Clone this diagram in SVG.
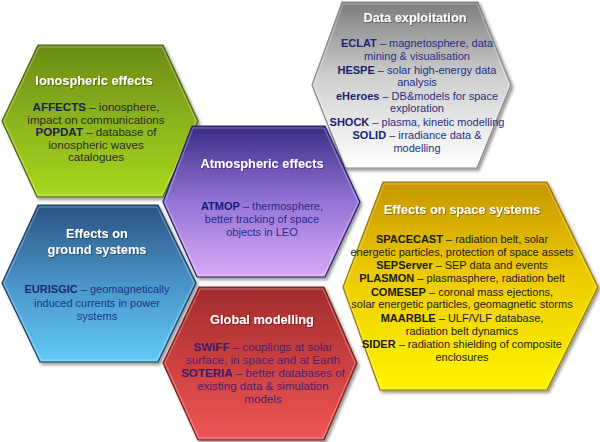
<svg xmlns="http://www.w3.org/2000/svg" width="600" height="442" viewBox="0 0 600 442">
<defs>
<linearGradient id="gGreen" x1="0" y1="0" x2="0" y2="1"><stop offset="0" stop-color="#6c8a16"/><stop offset="0.5" stop-color="#8cb41c"/><stop offset="1" stop-color="#a8d620"/></linearGradient>
<linearGradient id="gGray" x1="0" y1="0" x2="0" y2="1"><stop offset="0" stop-color="#7c7c7c"/><stop offset="0.45" stop-color="#cfcfcf"/><stop offset="1" stop-color="#ffffff"/></linearGradient>
<linearGradient id="gPurple" x1="0" y1="0" x2="0" y2="1"><stop offset="0" stop-color="#3a2c84"/><stop offset="0.5" stop-color="#9274d6"/><stop offset="1" stop-color="#daaaf6"/></linearGradient>
<linearGradient id="gBlue" x1="0" y1="0" x2="0" y2="1"><stop offset="0" stop-color="#2a5282"/><stop offset="0.5" stop-color="#4a94c8"/><stop offset="1" stop-color="#62caf6"/></linearGradient>
<linearGradient id="gRed" x1="0" y1="0" x2="0" y2="1"><stop offset="0" stop-color="#a02c2c"/><stop offset="0.5" stop-color="#cc4040"/><stop offset="1" stop-color="#ee5656"/></linearGradient>
<linearGradient id="gYellow" x1="0" y1="0" x2="0" y2="1"><stop offset="0" stop-color="#c89600"/><stop offset="0.45" stop-color="#eccc00"/><stop offset="1" stop-color="#fff400"/></linearGradient>
<filter id="sh" x="-10%" y="-10%" width="125%" height="125%"><feDropShadow dx="2" dy="2.5" stdDeviation="1.8" flood-color="#000" flood-opacity="0.4"/></filter>
<filter id="tsh" x="-5%" y="-20%" width="110%" height="150%"><feDropShadow dx="0.8" dy="0.8" stdDeviation="0.6" flood-color="#000" flood-opacity="0.45"/></filter>
</defs>
<style>
.hex{stroke-width:1.2;filter:url(#sh)}
.bev{fill:none;stroke:#ffffff;stroke-opacity:0.35;stroke-width:1}
text{font-family:"Liberation Sans",Arial,sans-serif;text-anchor:middle}
.t{font-size:12.8px;font-weight:bold;fill:#ffffff;filter:url(#tsh)}
.b{font-size:11px}
.bl{font-size:11.6px}
.k{font-weight:bold}
</style>
<rect width="600" height="442" fill="#ffffff"/>
<g id="connectors"></g>
<g id="ionospheric">
<polygon class="hex" points="38,45 163,45 198,121 163,197 37,197 2,121" fill="url(#gGreen)" stroke="#4e6410"/>
<polygon class="bev" points="39,47 162,47 196,121 162,195 38,195 4,121"/>
<text class="t" x="94" y="85">Ionospheric effects</text>
<g class="bl" fill="#2a2a2a">
<text x="96" y="111"><tspan class="k" fill="#1c2248">AFFECTS</tspan> – ionosphere,</text>
<text x="96" y="123.5">impact on communications</text>
<text x="96" y="136"><tspan class="k" fill="#1c2248">POPDAT</tspan> – database of</text>
<text x="96" y="148.5">ionospheric waves</text>
<text x="96" y="161">catalogues</text>
</g>
</g>
<g id="data-exploitation">
<polygon class="hex" points="342,2 478,2 511,85 477,168 345,168 312,85" fill="url(#gGray)" stroke="#8a8a8a"/>
<polygon class="bev" points="343,4 477,4 509,85 476,166 346,166 314,85"/>
<text class="t" x="415" y="22">Data exploitation</text>
<g class="b" fill="#252f86">
<text x="417" y="47"><tspan class="k" fill="#1a2370">ECLAT</tspan> – magnetosphere, data</text>
<text x="417" y="60">mining &amp; visualisation</text>
<text x="417" y="73.5"><tspan class="k" fill="#1a2370">HESPE</tspan> – solar high-energy data</text>
<text x="417" y="86">analysis</text>
<text x="417" y="99.5"><tspan class="k" fill="#1a2370">eHeroes</tspan> – DB&amp;models for space</text>
<text x="417" y="112">exploration</text>
<text x="417" y="125.5"><tspan class="k" fill="#1a2370">SHOCK</tspan> – plasma, kinetic modelling</text>
<text x="417" y="138.5"><tspan class="k" fill="#1a2370">SOLID</tspan> – irradiance data &amp;</text>
<text x="417" y="151.5">modelling</text>
</g>
</g>
<g id="atmospheric">
<polygon class="hex" points="192,126 325,126 360,202 325,277 197,277 163,202" fill="url(#gPurple)" stroke="#2c2068"/>
<polygon class="bev" points="193,128 324,128 358,202 324,275 198,275 165,202"/>
<text class="t" x="262" y="168">Atmospheric effects</text>
<g class="b" fill="#2a2a8a">
<text x="262" y="210"><tspan class="k" fill="#1a1a70">ATMOP</tspan> – thermosphere,</text>
<text x="262" y="223">better tracking of space</text>
<text x="262" y="235.5">objects in LEO</text>
</g>
</g>
<g id="ground-systems">
<polygon class="hex" points="38,205 158,205 196,283 158,362 40,362 2,283" fill="url(#gBlue)" stroke="#1e3e66"/>
<polygon class="bev" points="39,207 157,207 194,283 157,360 41,360 4,283"/>
<text class="t" x="97" y="237.5">Effects on</text>
<text class="t" x="97" y="253.5">ground systems</text>
<g class="b" fill="#1e3488">
<text x="97" y="293"><tspan class="k" fill="#1a2a70">EURISGIC</tspan> – geomagnetically</text>
<text x="97" y="306.5">induced currents in power</text>
<text x="97" y="320">systems</text>
</g>
</g>
<g id="global-modelling">
<polygon class="hex" points="199,287 324,287 357,363 324,440 198,440 163,363" fill="url(#gRed)" stroke="#7a2020"/>
<polygon class="bev" points="200,289 323,289 355,363 323,438 199,438 165,363"/>
<text class="t" x="262" y="323.5">Global modelling</text>
<g class="bl" fill="#4a2072">
<text x="263" y="351"><tspan class="k" fill="#3a1a6c">SWIFF</tspan> – couplings at solar</text>
<text x="263" y="364">surface, in space and at Earth</text>
<text x="263" y="377"><tspan class="k" fill="#3a1a6c">SOTERIA</tspan> – better databases of</text>
<text x="263" y="390">existing data &amp; simulation</text>
<text x="263" y="403">models</text>
</g>
</g>
<g id="space-systems">
<polygon class="hex" points="383,182 547,182 598,287 547,390 380,390 343,287" fill="url(#gYellow)" stroke="#9a7800"/>
<polygon class="bev" points="384,184 546,184 596,287 546,388 381,388 345,287"/>
<text class="t" x="462" y="213.5">Effects on space systems</text>
<g class="b" fill="#1a1a1a">
<text x="462" y="243"><tspan class="k">SPACECAST</tspan> – radiation belt, solar</text>
<text x="462" y="256">energetic particles, protection of space assets</text>
<text x="462" y="269"><tspan class="k">SEPServer</tspan> – SEP data and events</text>
<text x="462" y="282"><tspan class="k">PLASMON</tspan> – plasmasphere, radiation belt</text>
<text x="462" y="295.5"><tspan class="k">COMESEP</tspan> – coronal mass ejections,</text>
<text x="462" y="308">solar energetic particles, geomagnetic storms</text>
<text x="462" y="321.5"><tspan class="k">MAARBLE</tspan> – ULF/VLF database,</text>
<text x="462" y="334.5">radiation belt dynamics</text>
<text x="462" y="347.5"><tspan class="k">SIDER</tspan> – radiation shielding of composite</text>
<text x="462" y="360.5">enclosures</text>
</g>
</g>
</svg>
